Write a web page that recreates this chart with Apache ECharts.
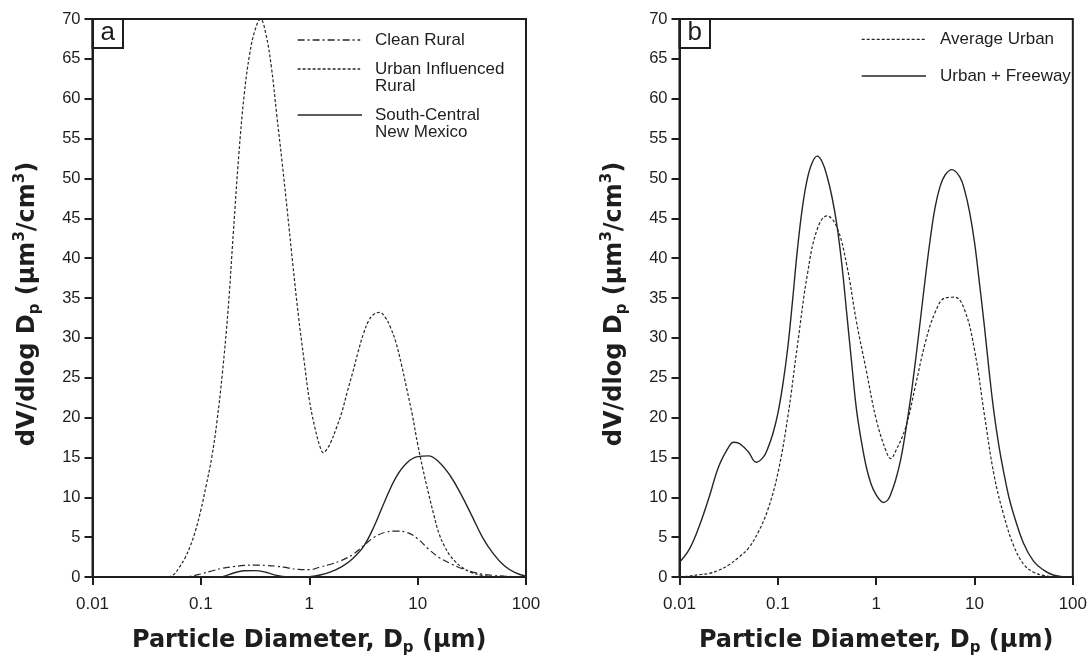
<!DOCTYPE html>
<html>
<head>
<meta charset="utf-8">
<script src="https://cdn.jsdelivr.net/npm/echarts@6/dist/echarts.min.js"></script>
<style>
html,body{margin:0;padding:0;background:#fff;}
#chart{width:1090px;height:661px;}
</style>
</head>
<body>
<div id="chart"></div>
<script>
// ---------- DATA ----------
var xTickLabels = ['0.01', '0.1', '1', '10', '100'];
var yTickMax = 70, yTickStep = 5;

// Panel a
var cleanRuralD = [0.063, 0.0794, 0.1, 0.126, 0.158, 0.2, 0.251, 0.316, 0.398, 0.501, 0.631, 0.794, 1.0, 1.26, 1.58, 2.0, 2.51, 3.16, 3.98, 5.01, 6.31, 7.94, 10, 12.6, 15.8, 20, 25.1, 31.6, 39.8, 50.1, 63.1, 79.4, 100];
var cleanRuralV = [0, 0.08, 0.38, 0.75, 1.1, 1.3, 1.45, 1.5, 1.45, 1.35, 1.15, 0.95, 0.92, 1.25, 1.6, 2.1, 2.8, 3.9, 5.0, 5.6, 5.75, 5.6, 4.8, 3.5, 2.45, 1.7, 1.1, 0.65, 0.35, 0.2, 0.1, 0.05, 0];

var urbanRuralD = [0.0501, 0.0562, 0.0631, 0.0708, 0.0794, 0.0891, 0.1, 0.112, 0.126, 0.141, 0.158, 0.178, 0.2, 0.224, 0.251, 0.282, 0.316, 0.355, 0.398, 0.447, 0.501, 0.562, 0.631, 0.708, 0.794, 0.891, 1.0, 1.12, 1.26, 1.35, 1.48, 1.58, 1.78, 2.0, 2.24, 2.51, 2.82, 3.16, 3.55, 3.98, 4.47, 5.01, 5.62, 6.31, 7.08, 7.94, 8.91, 10, 11.2, 12.6, 14.1, 15.8, 17.8, 20, 22.4, 25.1, 31.6, 39.8, 50.1, 63.1, 100];
var urbanRuralV = [0, 0.3, 1.2, 2.3, 3.8, 5.8, 8.4, 11.5, 15.0, 19.6, 25.6, 33.4, 43.5, 53.0, 60.5, 65.6, 68.6, 70.0, 68.1, 64.0, 58.0, 52.0, 45.6, 39.0, 32.8, 27.4, 22.3, 18.9, 16.3, 15.6, 16.2, 16.9, 18.7, 20.7, 23.2, 25.6, 28.2, 30.5, 32.2, 33.0, 33.2, 32.6, 31.3, 29.4, 26.7, 23.6, 20.4, 16.7, 13.5, 10.5, 7.8, 5.4, 3.8, 2.65, 1.9, 1.3, 0.55, 0.2, 0.05, 0, 0];

var southCentralD = [0.126, 0.158, 0.2, 0.251, 0.316, 0.398, 0.501, 0.631, 0.794, 1.0, 1.26, 1.58, 2.0, 2.51, 3.16, 3.98, 5.01, 6.31, 7.94, 10, 12.6, 15.8, 20, 25.1, 31.6, 39.8, 50.1, 63.1, 79.4, 100];
var southCentralV = [0, 0.05, 0.5, 0.78, 0.8, 0.6, 0.2, 0.02, 0, 0.05, 0.25, 0.65, 1.3, 2.3, 3.8, 6.4, 9.6, 12.5, 14.3, 15.1, 15.2, 14.4, 12.7, 10.4, 7.7, 4.95, 2.9, 1.4, 0.55, 0.1];

// Panel b
var avgUrbanD = [0.01, 0.0126, 0.0158, 0.02, 0.0251, 0.0316, 0.0398, 0.0501, 0.0631, 0.0794, 0.1, 0.126, 0.158, 0.2, 0.251, 0.316, 0.398, 0.501, 0.631, 0.794, 1.0, 1.26, 1.41, 1.58, 2.0, 2.51, 3.16, 3.98, 5.01, 6.31, 7.94, 10, 12.6, 15.8, 20, 25.1, 31.6, 39.8, 50.1, 63.1, 79.4, 100];
var avgUrbanV = [0.02, 0.12, 0.3, 0.45, 0.85, 1.5, 2.45, 3.6, 5.6, 8.5, 13.0, 20.0, 29.0, 38.0, 43.6, 45.3, 43.9, 39.2, 32.0, 25.9, 19.8, 15.8, 14.85, 15.8, 18.8, 24.0, 29.4, 33.2, 35.0, 35.1, 33.5, 28.5, 20.4, 12.8, 7.6, 3.9, 1.6, 0.6, 0.2, 0.05, 0, 0];

var urbanFwyD = [0.01, 0.0126, 0.0158, 0.02, 0.0251, 0.0316, 0.0355, 0.0398, 0.0501, 0.0603, 0.0708, 0.0794, 0.0891, 0.1, 0.112, 0.126, 0.141, 0.158, 0.178, 0.2, 0.224, 0.251, 0.282, 0.316, 0.355, 0.398, 0.447, 0.501, 0.562, 0.631, 0.708, 0.794, 0.891, 1.0, 1.12, 1.20, 1.32, 1.41, 1.58, 1.78, 2.0, 2.24, 2.51, 2.82, 3.16, 3.55, 3.98, 4.47, 5.01, 5.89, 7.08, 7.94, 8.91, 10, 11.2, 12.6, 14.1, 15.8, 17.8, 20, 22.4, 25.1, 31.6, 39.8, 50.1, 63.1, 79.4, 100];
var urbanFwyV = [1.85, 3.5, 6.3, 10.0, 13.9, 16.3, 16.9, 16.8, 15.7, 14.4, 15.0, 16.2, 18.0, 20.5, 24.0, 28.7, 34.6, 41.0, 46.4, 50.0, 52.0, 52.8, 52.1, 50.3, 47.7, 44.2, 39.3, 33.2, 27.0, 21.0, 17.0, 13.8, 11.6, 10.3, 9.5, 9.35, 9.7, 10.4, 12.2, 14.8, 18.4, 22.4, 27.1, 32.3, 37.5, 42.4, 46.4, 49.0, 50.4, 51.1, 50.2, 48.5, 45.8, 42.0, 37.0, 31.5, 25.8, 20.6, 16.3, 12.9, 10.0, 7.8, 4.2, 2.0, 0.9, 0.25, 0.05, 0];

// ---------- helpers ----------
function zip(xs, ys) { return xs.map(function (x, i) { return [x, ys[i]]; }); }
var FONT = '"Liberation Sans", Arial, Helvetica, sans-serif';
var TFONT = '"DejaVu Sans", Verdana, sans-serif';
var INK = '#1e1e1e';
var LINE = '#262626';

function xAxisCfg(gi) {
  return {
    type: 'log', logBase: 10, min: 0.01, max: 100, gridIndex: gi,
    name: '{t|Particle Diameter, D}{s|p}{t| (µm)}',
    nameLocation: 'middle', nameGap: 49,
    nameTextStyle: {
      rich: {
        t: { fontFamily: TFONT, fontSize: 24, fontWeight: 'bold', color: INK, lineHeight: 30 },
        s: { fontFamily: TFONT, fontSize: 15, fontWeight: 'bold', color: INK, lineHeight: 14, verticalAlign: 'bottom' }
      }
    },
    axisLine: { show: true, onZero: false, lineStyle: { color: INK, width: 2 } },
    axisTick: { show: true, inside: false, length: 8, lineStyle: { color: INK, width: 2 } },
    minorTick: { show: false },
    splitLine: { show: false },
    axisLabel: {
      fontFamily: FONT, fontSize: 17, color: INK, margin: 19,
      formatter: function (v) { return xTickLabels[Math.round(Math.log10(v)) + 2]; }
    }
  };
}
function yAxisCfg(gi) {
  return {
    type: 'value', min: 0, max: yTickMax, interval: yTickStep, gridIndex: gi,
    name: '{t|dV/dlog D}{s|p}{t| (µm}{u|3}{t|/cm}{u|3}{t|)}',
    nameLocation: 'middle', nameGap: 50, nameRotate: 90,
    nameTextStyle: {
      padding: [0, 12, 0, 0],
      rich: {
        t: { fontFamily: TFONT, fontSize: 24, fontWeight: 'bold', color: INK, lineHeight: 30 },
        s: { fontFamily: TFONT, fontSize: 15, fontWeight: 'bold', color: INK, lineHeight: 14, verticalAlign: 'bottom' },
        u: { fontFamily: TFONT, fontSize: 15, fontWeight: 'bold', color: INK, lineHeight: 15, verticalAlign: 'top' }
      }
    },
    axisLine: { show: true, lineStyle: { color: INK, width: 2 } },
    axisTick: { show: true, inside: false, length: 8, lineStyle: { color: INK, width: 2 } },
    splitLine: { show: false },
    axisLabel: { fontFamily: FONT, fontSize: 16.5, color: INK, margin: 12 }
  };
}
function lineSeries(name, xi, data, dash, w) {
  return {
    name: name, type: 'line', xAxisIndex: xi, yAxisIndex: xi,
    data: data, showSymbol: false, symbol: 'none', smooth: 0.4,
    lineStyle: { color: LINE, width: w || 1.2, type: dash || 'solid' },
    emphasis: { disabled: true }, animation: false, clip: true
  };
}

var chart = echarts.init(document.getElementById('chart'), null, { renderer: 'canvas' });

function ltext(x, y, txt) {
  return { type: 'text', x: x, y: y, style: { text: txt, fontFamily: FONT, fontSize: 17, fill: INK, verticalAlign: 'top', align: 'left', lineHeight: 17 } };
}
function lline(x1, x2, y, dash) {
  return { type: 'line', shape: { x1: x1, y1: y, x2: x2, y2: y }, style: { stroke: LINE, lineWidth: 1.3, lineDash: dash } };
}

var option = {
  backgroundColor: '#fff',
  animation: false,
  grid: [
    { left: 92.5, top: 19, width: 433.5, height: 559.7, show: true, borderColor: INK, borderWidth: 2, backgroundColor: 'transparent' },
    { left: 679.5, top: 19, width: 396.5, height: 559.7, show: true, borderColor: INK, borderWidth: 2, backgroundColor: 'transparent' }
  ],
  xAxis: [xAxisCfg(0), xAxisCfg(1)],
  yAxis: [yAxisCfg(0), yAxisCfg(1)],
  series: [
    lineSeries('Clean Rural', 0, zip(cleanRuralD, cleanRuralV), [7, 3, 2, 3], 1.2),
    lineSeries('Urban Influenced Rural', 0, zip(urbanRuralD, urbanRuralV), [3, 2], 1.2),
    lineSeries('South-Central New Mexico', 0, zip(southCentralD, southCentralV), 'solid', 1.4),
    lineSeries('Average Urban', 1, zip(avgUrbanD, avgUrbanV), [3, 2], 1.2),
    lineSeries('Urban + Freeway', 1, zip(urbanFwyD, urbanFwyV), 'solid', 1.4)
  ],
  graphic: [
    // panel labels
    { type: 'rect', shape: { x: 92.5, y: 19, width: 30.5, height: 29 }, style: { fill: '#fff', stroke: INK, lineWidth: 2 } },
    { type: 'text', x: 107.7, y: 33, style: { text: 'a', fontFamily: FONT, fontSize: 26, fill: INK, align: 'center', verticalAlign: 'middle' } },
    { type: 'rect', shape: { x: 679.5, y: 19, width: 30.5, height: 29 }, style: { fill: '#fff', stroke: INK, lineWidth: 2 } },
    { type: 'text', x: 694.7, y: 33, style: { text: 'b', fontFamily: FONT, fontSize: 26, fill: INK, align: 'center', verticalAlign: 'middle' } },
    // legend a
    lline(297.6, 360.2, 40, [7, 3, 2, 3]),
    ltext(375, 31.5, 'Clean Rural'),
    lline(297.6, 360.2, 69, [3, 2]),
    ltext(375, 60.5, 'Urban Influenced\nRural'),
    lline(297.6, 362, 115, null),
    ltext(375, 106.5, 'South-Central\nNew Mexico'),
    // legend b
    lline(861.7, 926, 39.3, [3, 2]),
    ltext(940, 30.8, 'Average Urban'),
    lline(861.7, 926, 76, null),
    ltext(940, 67.5, 'Urban + Freeway')
  ]
};
chart.setOption(option);
</script>
</body>
</html>
